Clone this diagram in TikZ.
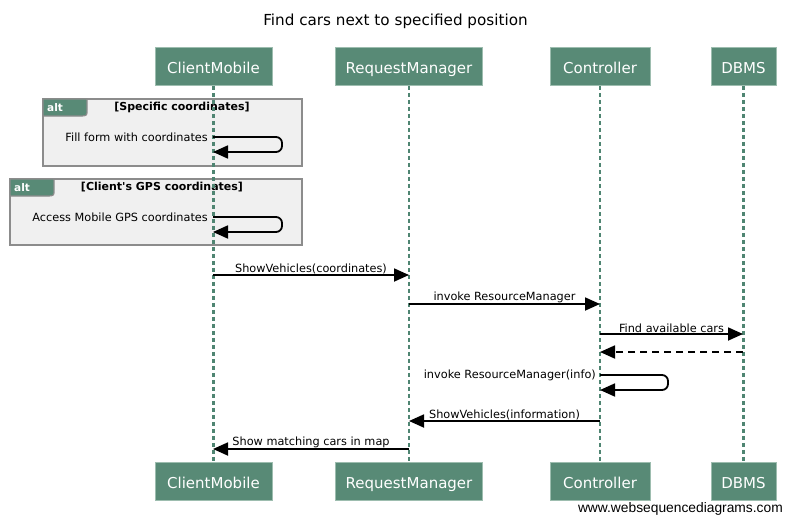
\documentclass[tikz,border=0pt]{standalone}
\usepackage{fontspec}
\setmainfont{DejaVu Sans}[Ligatures=TeXOff]
\newfontfamily\footfont{Liberation Sans}
\usetikzlibrary{arrows.meta,calc}
\definecolor{partfill}{HTML}{588A76}
\definecolor{partedge}{HTML}{9DBDAF}
\definecolor{lifecol}{HTML}{4F8572}
\definecolor{framebg}{HTML}{F0F0F0}
\definecolor{frameedge}{HTML}{8C8C8C}
\begin{document}
\begin{tikzpicture}[x=1pt,y=-1pt,
  participant/.style={draw=partedge, fill=partfill, text=white, line width=0.8pt,
    font=\fontsize{15}{17}\selectfont, inner sep=0pt, minimum height=38pt,
    text height=17pt, text depth=2pt},
  lifeline/.style={draw=lifecol, line width=2.8pt, dash pattern=on 4pt off 3pt},
  msg/.style={draw=black, line width=1.8pt, -{Triangle[length=15pt,width=13pt]}},
  retmsg/.style={msg, dash pattern=on 7pt off 5pt},
  selfmsg/.style={msg, rounded corners=6pt},
  msglabel/.style={font=\fontsize{11.3}{13}\selectfont, inner sep=1pt},
  framebox/.style={draw=frameedge, fill=framebg, line width=1.6pt},
  framelabel/.style={font=\bfseries\fontsize{11}{13}\selectfont, inner sep=0pt},
  tabfill/.style={fill=partfill, draw=frameedge, line width=1.2pt},
  tablabel/.style={font=\bfseries\fontsize{10.5}{12}\selectfont, text=white, inner sep=0pt, anchor=west}
]
\useasboundingbox (0,0) rectangle (791,524);

% title
\node[font=\fontsize{15.2}{18}\selectfont] (title) at (395.5,21) {Find cars next to specified position};

% participants (top and bottom)
\node[participant, minimum width=117pt] (cmT) at (213.5,66.5) {ClientMobile};
\node[participant, minimum width=147pt] (rmT) at (409,66.5) {RequestManager};
\node[participant, minimum width=100pt] (ctT) at (600,66.5) {Controller};
\node[participant, minimum width=65pt]  (dbT) at (743.5,66.5) {DBMS};
\node[participant, minimum width=117pt] (cmB) at (213.5,481) {ClientMobile};
\node[participant, minimum width=147pt] (rmB) at (409,481) {RequestManager};
\node[participant, minimum width=100pt] (ctB) at (600,481) {Controller};
\node[participant, minimum width=65pt]  (dbB) at (743.5,481) {DBMS};

% alt frames
\draw[framebox] (43,99) rectangle (302,166);
\draw[tabfill] (43,99) -- (87,99) -- (87,110) .. controls (87,115.5) .. (82,116) -- (43,116) -- cycle;
\node[tablabel] (alt1) at (47,107.5) {alt};
\node[framelabel] (g1) at (182,107) {[Specific coordinates]};

\draw[framebox] (10,179) rectangle (302,245);
\draw[tabfill] (10,179) -- (54,179) -- (54,190) .. controls (54,195.5) .. (49,196) -- (10,196) -- cycle;
\node[tablabel] (alt2) at (14,187.5) {alt};
\node[framelabel] (g2) at (162,187) {[Client's GPS coordinates]};

% lifelines
\draw[lifeline] (cmT.south) -- (cmB.north);
\draw[lifeline] (rmT.south) -- (rmB.north);
\draw[lifeline] (ctT.south) -- (ctB.north);
\draw[lifeline] (dbT.south) -- (dbB.north);

% message end points on lifelines
\coordinate (s1a) at (213,137);  \coordinate (s1b) at (213,152);
\coordinate (s2a) at (213,217);  \coordinate (s2b) at (213,232);
\coordinate (m1a) at (213,275);  \coordinate (m1b) at (409,275);
\coordinate (m2a) at (409,304);  \coordinate (m2b) at (600,304);
\coordinate (m3a) at (600,334);  \coordinate (m3b) at (743,334);
\coordinate (m4a) at (743,352);  \coordinate (m4b) at (600,352);
\coordinate (s3a) at (600,375);  \coordinate (s3b) at (600,390);
\coordinate (m5a) at (600,421);  \coordinate (m5b) at (409,421);
\coordinate (m6a) at (409,449);  \coordinate (m6b) at (213,449);

% self messages
\draw[selfmsg] (s1a) -- (282,137) -- (282,152) -- (s1b);
\node[msglabel, anchor=east] (l1) at (209,137) {Fill form with coordinates};
\draw[selfmsg] (s2a) -- (282,217) -- (282,232) -- (s2b);
\node[msglabel, anchor=east] (l2) at (209,217) {Access Mobile GPS coordinates};

% messages
\draw[msg] (m1a) -- (m1b) node[msglabel, midway, above=-1pt] (l3) {ShowVehicles(coordinates)};
\draw[msg] (m2a) -- (m2b) node[msglabel, midway, above=-1pt] (l4) {invoke ResourceManager};
\draw[msg] (m3a) -- (m3b) node[msglabel, midway, above=-1pt] (l5) {Find available cars};
\draw[retmsg] (m4a) -- (m4b);
\draw[selfmsg] (s3a) -- (668,375) -- (668,390) -- (s3b);
\node[msglabel, anchor=east] (l6) at (597,375) {invoke ResourceManager(info)};
\draw[msg] (m5a) -- (m5b) node[msglabel, midway, above=-1pt] (l7) {ShowVehicles(information)};
\draw[msg] (m6a) -- (m6b) node[msglabel, midway, above=-1pt] (l8) {Show matching cars in map};

% footer
\node[font=\footfont\fontsize{13.8}{15}\selectfont, anchor=east, inner sep=0pt] (foot) at (783,509) {www.websequencediagrams.com};
\end{tikzpicture}
\end{document}
